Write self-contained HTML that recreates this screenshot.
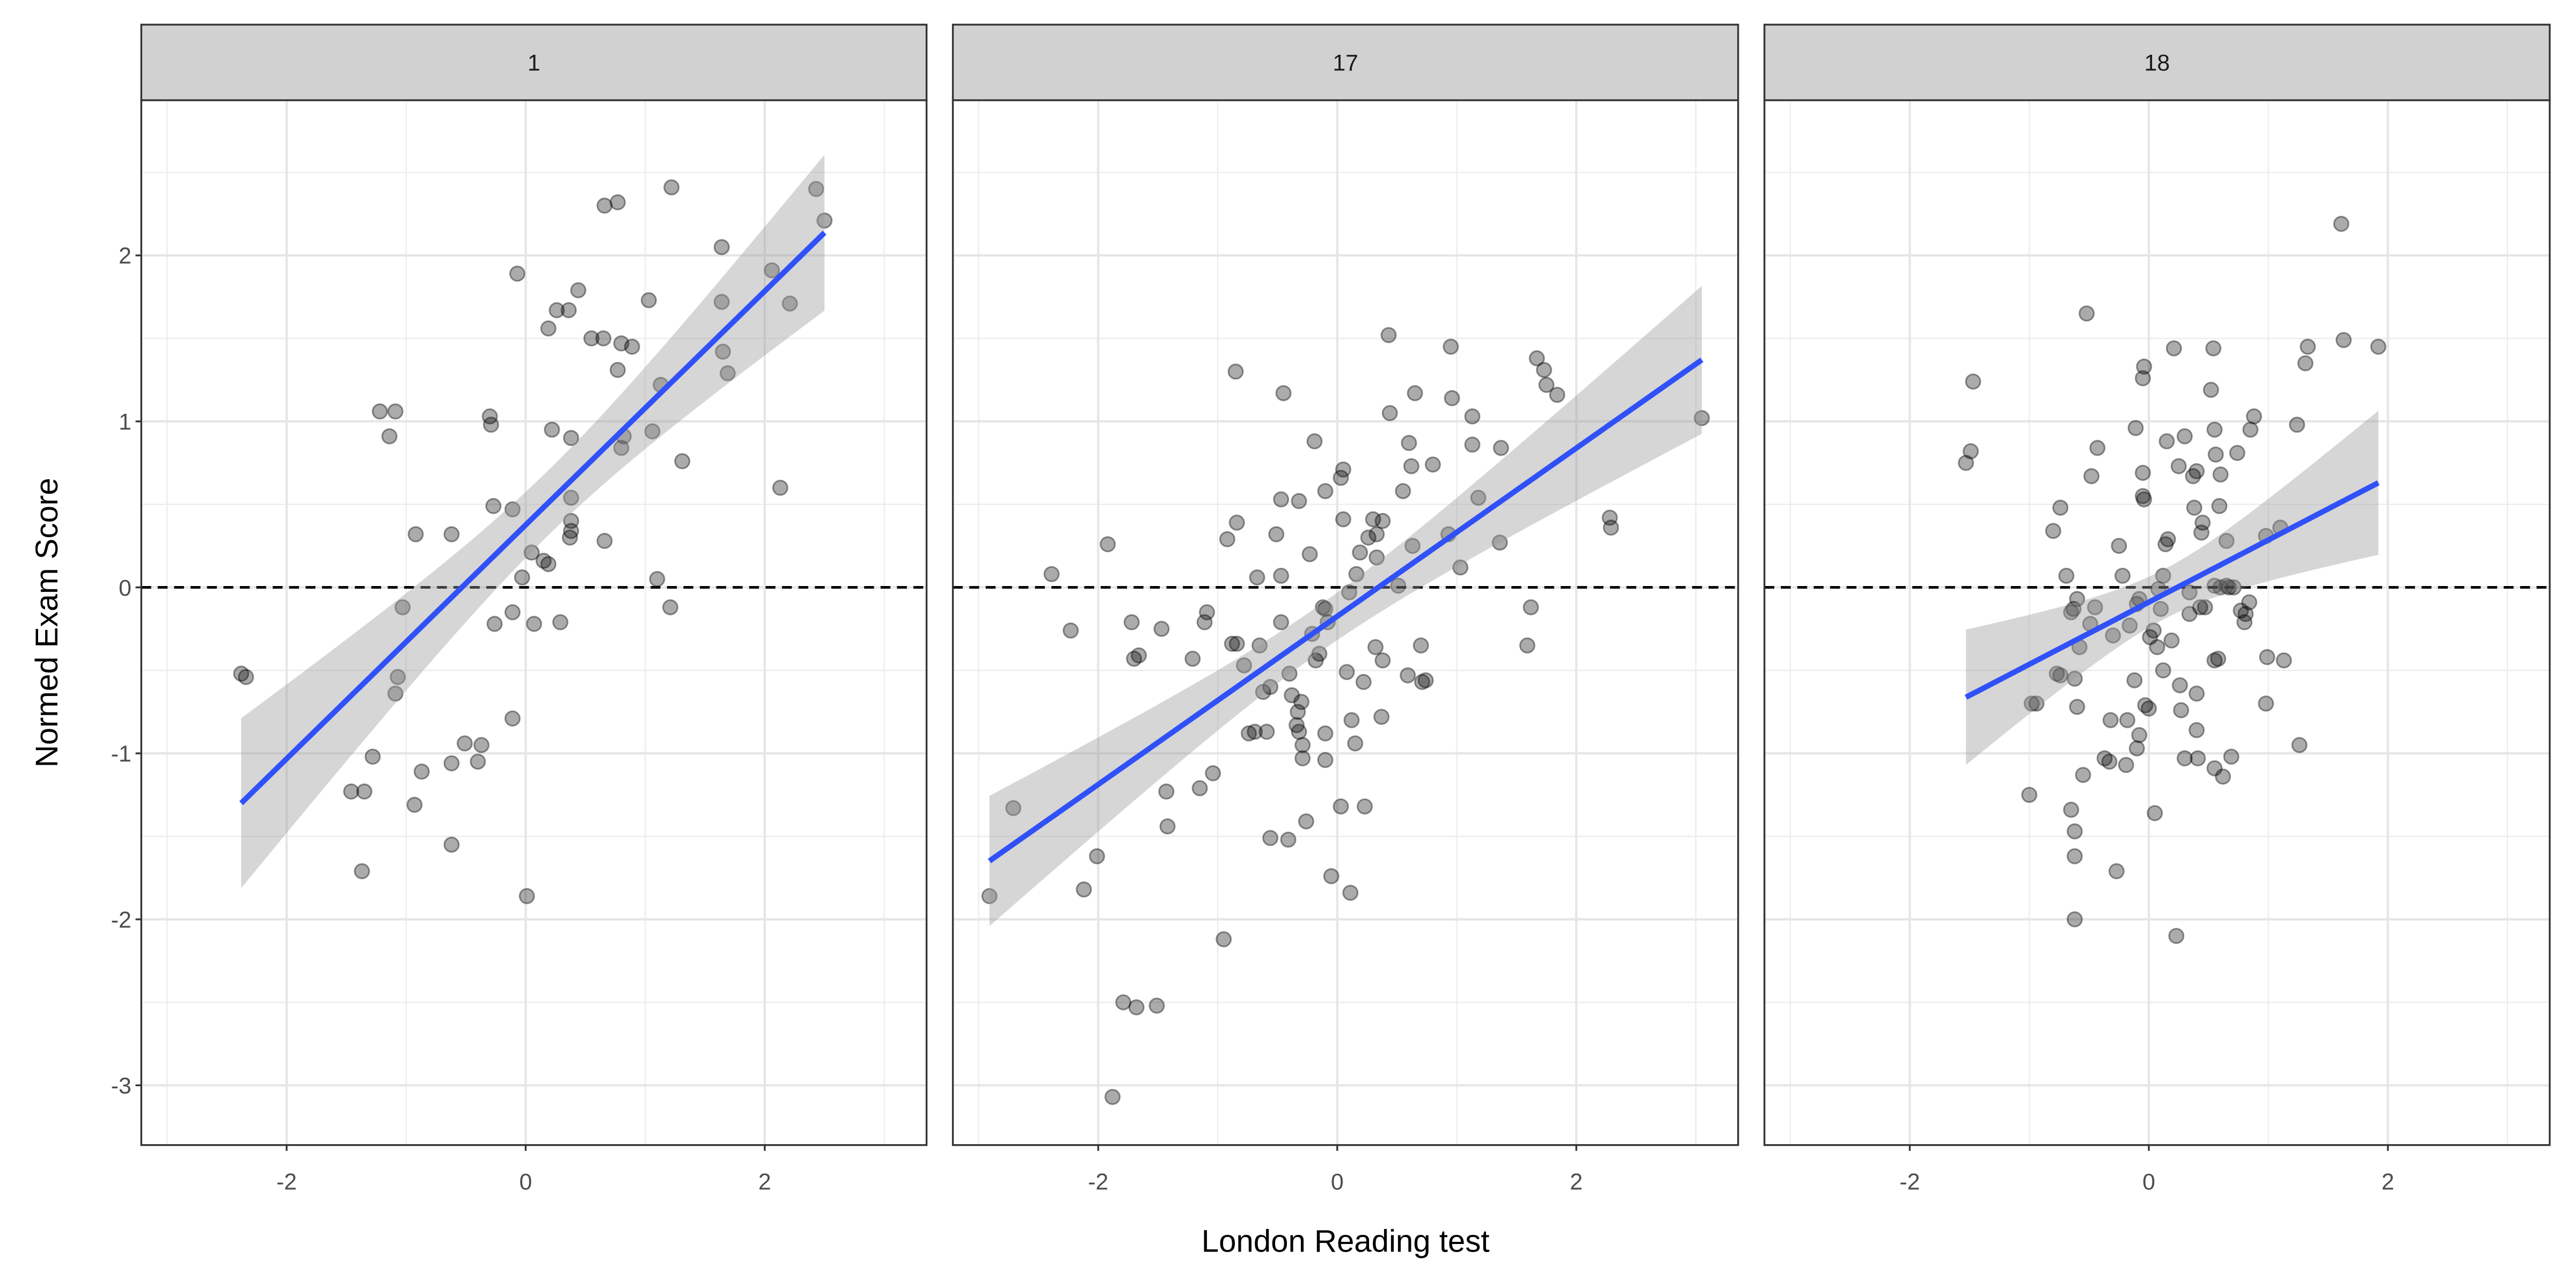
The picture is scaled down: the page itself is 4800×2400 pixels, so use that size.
<!DOCTYPE html>
<html><head><meta charset="utf-8"><style>
html,body{margin:0;padding:0;background:#fff;}
svg{display:block;}
text{font-family:"Liberation Sans",Arial,sans-serif;}
</style></head><body>
<svg id="chart" width="4800" height="2400" viewBox="0 0 1568 784" xmlns="http://www.w3.org/2000/svg"></svg>
<script>
const panelLabels = ["1", "17", "18"];
const xTicks = [-2, 0, 2];
const yTicks = [-3, -2, -1, 0, 1, 2];
const xTickLabels = ["-2", "0", "2"];
const yTickLabels = ["-3", "-2", "-1", "0", "1", "2"];
const p1x = [-2.38,-2.34,-1.46,-1.35,-1.37,-1.28,-1.22,-1.09,-1.14,-1.07,-1.09,-1.03,-0.92,-0.93,-0.87,-0.62,-0.62,-0.62,-0.51,-0.40,-0.37,-0.30,-0.29,-0.27,-0.26,-0.11,-0.11,-0.11,-0.07,-0.03,0.01,0.05,0.07,0.15,0.19,0.19,0.22,0.26,0.29,0.36,0.37,0.38,0.38,0.38,0.38,0.44,0.55,0.65,0.66,0.66,0.77,0.77,0.80,0.80,0.82,0.89,1.03,1.06,1.10,1.13,1.21,1.22,1.31,1.64,1.64,1.65,1.69,2.06,2.13,2.21,2.43,2.50];
const p1y = [-0.52,-0.54,-1.23,-1.23,-1.71,-1.02,1.06,1.06,0.91,-0.54,-0.64,-0.12,0.32,-1.31,-1.11,0.32,-1.06,-1.55,-0.94,-1.05,-0.95,1.03,0.98,0.49,-0.22,0.47,-0.15,-0.79,1.89,0.06,-1.86,0.21,-0.22,0.16,0.14,1.56,0.95,1.67,-0.21,1.67,0.30,0.34,0.40,0.54,0.90,1.79,1.50,1.50,0.28,2.30,2.32,1.31,1.47,0.84,0.91,1.45,1.73,0.94,0.05,1.22,-0.12,2.41,0.76,2.05,1.72,1.42,1.29,1.91,0.60,1.71,2.40,2.21];
const p2x = [-2.91,-2.71,-2.39,-2.23,-2.12,-2.01,-1.92,-1.88,-1.79,-1.70,-1.66,-1.72,-1.68,-1.51,-1.47,-1.43,-1.42,-1.21,-1.15,-1.11,-1.09,-1.04,-0.95,-0.92,-0.88,-0.84,-0.85,-0.84,-0.78,-0.74,-0.69,-0.67,-0.65,-0.62,-0.56,-0.59,-0.56,-0.41,-0.51,-0.47,-0.47,-0.47,-0.45,-0.40,-0.38,-0.34,-0.32,-0.32,-0.33,-0.30,-0.29,-0.29,-0.26,-0.23,-0.21,-0.19,-0.18,-0.15,-0.12,-0.10,-0.10,-0.08,-0.10,-0.10,-0.05,0.03,0.03,0.05,0.05,0.08,0.11,0.10,0.12,0.15,0.16,0.19,0.22,0.23,0.26,0.30,0.33,0.33,0.32,0.37,0.38,0.38,0.43,0.44,0.51,0.55,0.59,0.60,0.62,0.63,0.65,0.70,0.71,0.74,0.80,0.93,0.95,0.96,1.03,1.13,1.13,1.18,1.36,1.37,1.59,1.62,1.67,1.73,1.75,1.84,2.28,2.29,3.05];
const p2y = [-1.86,-1.33,0.08,-0.26,-1.82,-1.62,0.26,-3.07,-2.50,-0.43,-0.41,-0.21,-2.53,-2.52,-0.25,-1.23,-1.44,-0.43,-1.21,-0.21,-0.15,-1.12,-2.12,0.29,-0.34,-0.34,1.30,0.39,-0.47,-0.88,-0.87,0.06,-0.35,-0.63,-0.60,-0.87,-1.51,-1.52,0.32,0.53,0.07,-0.21,1.17,-0.52,-0.65,-0.83,-0.87,0.52,-0.75,-0.69,-0.95,-1.03,-1.41,0.20,-0.28,0.88,-0.44,-0.40,-0.12,0.58,-0.13,-0.21,-0.88,-1.04,-1.74,-1.32,0.66,0.71,0.41,-0.51,-1.84,-0.03,-0.80,-0.94,0.08,0.21,-0.57,-1.32,0.30,0.41,0.32,0.18,-0.36,-0.78,-0.44,0.40,1.52,1.05,0.01,0.58,-0.53,0.87,0.73,0.25,1.17,-0.35,-0.57,-0.56,0.74,0.32,1.45,1.14,0.12,0.86,1.03,0.54,0.27,0.84,-0.35,-0.12,1.38,1.31,1.22,1.16,0.42,0.36,1.02];
const p3x = [-1.53,-1.49,-1.47,-1.00,-0.98,-0.94,-0.80,-0.74,-0.77,-0.74,-0.69,-0.65,-0.63,-0.60,-0.65,-0.62,-0.62,-0.62,-0.62,-0.60,-0.58,-0.55,-0.52,-0.49,-0.45,-0.48,-0.43,-0.37,-0.33,-0.32,-0.30,-0.27,-0.25,-0.22,-0.19,-0.18,-0.16,-0.12,-0.10,-0.08,-0.10,-0.08,-0.11,-0.05,-0.04,-0.05,-0.05,-0.04,-0.03,0.00,0.01,0.04,0.07,0.05,0.08,0.10,0.12,0.12,0.14,0.16,0.15,0.19,0.21,0.23,0.25,0.26,0.27,0.30,0.30,0.34,0.34,0.37,0.40,0.38,0.40,0.41,0.40,0.44,0.45,0.43,0.47,0.52,0.55,0.54,0.55,0.58,0.55,0.60,0.56,0.60,0.59,0.55,0.62,0.65,0.65,0.67,0.71,0.69,0.74,0.77,0.80,0.81,0.84,0.85,0.88,0.98,0.99,0.98,1.10,1.13,1.24,1.26,1.31,1.33,1.61,1.63,1.92];
const p3y = [0.75,0.82,1.24,-1.25,-0.70,-0.70,0.34,0.48,-0.52,-0.53,0.07,-0.15,-0.13,-0.07,-1.34,-1.47,-1.62,-2.00,-0.55,-0.72,-0.36,-1.13,1.65,-0.22,-0.12,0.67,0.84,-1.03,-1.05,-0.80,-0.29,-1.71,0.25,0.07,-1.07,-0.80,-0.23,-0.56,-0.97,-0.89,-0.10,-0.07,0.96,1.26,1.33,0.69,0.55,0.53,-0.71,-0.73,-0.30,-0.26,-0.36,-1.36,-0.01,-0.13,0.07,-0.50,0.26,0.29,0.88,-0.32,1.44,-2.10,0.73,-0.59,-0.74,0.91,-1.03,-0.03,-0.16,0.67,0.70,0.48,-0.86,-1.03,-0.64,0.33,0.39,-0.12,-0.12,1.19,0.95,1.44,-0.44,-0.43,0.01,0.00,0.80,0.68,0.49,-1.09,-1.14,0.28,0.01,0.00,0.00,-1.02,0.81,-0.14,-0.21,-0.16,-0.09,0.95,1.03,0.31,-0.42,-0.70,0.36,-0.44,0.98,-0.95,1.35,1.45,2.19,1.49,1.45];

const NS = "http://www.w3.org/2000/svg";
const svg = document.getElementById("chart");
function mk(tag, attrs, parent) {
  const e = document.createElementNS(NS, tag);
  for (const k in attrs) e.setAttribute(k, attrs[k]);
  (parent || svg).appendChild(e);
  return e;
}
const panelLefts = [86, 580, 1074];
const panelW = 478, stripTop = 15, plotTop = 61, plotBottom = 697;
const xMin = -3.216, xMax = 3.354, yMin = -3.36, yMax = 2.935;
const yScale = v => plotBottom - (v - yMin) / (yMax - yMin) * (plotBottom - plotTop);
const xsData = [p1x, p2x, p3x], ysData = [p1y, p2y, p3y];

function fit(xs, ys) {
  const n = xs.length;
  const mx = xs.reduce((a, b) => a + b, 0) / n, my = ys.reduce((a, b) => a + b, 0) / n;
  let sxx = 0, sxy = 0;
  for (let i = 0; i < n; i++) { sxx += (xs[i] - mx) ** 2; sxy += (xs[i] - mx) * (ys[i] - my); }
  const b = sxy / sxx, a = my - b * mx;
  let sse = 0;
  for (let i = 0; i < n; i++) sse += (ys[i] - a - b * xs[i]) ** 2;
  const s = Math.sqrt(sse / (n - 2));
  return { a, b, s, n, mx, sxx };
}

panelLabels.forEach((lab, p) => {
  const L = panelLefts[p];
  const xScale = v => L + (v - xMin) / (xMax - xMin) * panelW;
  const g = mk("g", {});
  
  
  mk("rect", { x: L, y: plotTop, width: panelW, height: plotBottom - plotTop, fill: "#fff" }, g);
  // minor grid
  [-3, -1, 1, 3].forEach(v => {
    const gl = mk("line", { x1: xScale(v), x2: xScale(v), y1: plotTop, y2: plotBottom, stroke: "#ebebeb", "stroke-width": 0.7 }, g);
    
    
  });
  [-2.5, -1.5, -0.5, 0.5, 1.5, 2.5].forEach(v => {
    const gl = mk("line", { x1: L, x2: L + panelW, y1: yScale(v), y2: yScale(v), stroke: "#ebebeb", "stroke-width": 0.7 }, g);
    
    
  });
  xTicks.forEach(v => {
    const gl = mk("line", { x1: xScale(v), x2: xScale(v), y1: plotTop, y2: plotBottom, stroke: "#e6e6e6", "stroke-width": 1.4 }, g);
    
    
  });
  yTicks.forEach(v => {
    const gl = mk("line", { x1: L, x2: L + panelW, y1: yScale(v), y2: yScale(v), stroke: "#e6e6e6", "stroke-width": 1.4 }, g);
    
    
  });
  // zero reference line
  const zl = mk("line", { x1: L, x2: L + panelW, y1: yScale(0), y2: yScale(0), stroke: "#000", "stroke-width": 1.6, "stroke-dasharray": "6,4" }, g);
  
  
  // points
  const xs = xsData[p], ys = ysData[p];
  xs.forEach((xv, i) => {
    const c = mk("circle", { cx: xScale(xv), cy: yScale(ys[i]), r: 4.4, fill: "rgba(0,0,0,0.33)", stroke: "rgba(0,0,0,0.4)", "stroke-width": 1 }, g);
    
    
  });
  // regression + CI
  const f = fit(xs, ys);
  const x0 = Math.min(...xs), x1 = Math.max(...xs);
  const t = 1.98, N = 60;
  const up = [], lo = [];
  for (let k = 0; k <= N; k++) {
    const xv = x0 + (x1 - x0) * k / N;
    const yh = f.a + f.b * xv;
    const se = f.s * Math.sqrt(1 / f.n + (xv - f.mx) ** 2 / f.sxx);
    up.push(xScale(xv) + "," + yScale(yh + t * se));
    lo.unshift(xScale(xv) + "," + yScale(yh - t * se));
  }
  const band = mk("polygon", { points: up.concat(lo).join(" "), fill: "rgba(153,153,153,0.4)" }, g);
  
  
  const rl = mk("line", { x1: xScale(x0), y1: yScale(f.a + f.b * x0), x2: xScale(x1), y2: yScale(f.a + f.b * x1), stroke: "#3050f8", "stroke-width": 3.3 }, g);
  
  
  // border
  mk("rect", { x: L, y: plotTop, width: panelW, height: plotBottom - plotTop, fill: "none", stroke: "#333", "stroke-width": 1.1 }, g);
  // strip
  const st = mk("rect", { x: L, y: stripTop, width: panelW, height: plotTop - stripTop, fill: "#d1d1d1", stroke: "#333", "stroke-width": 1.1 }, g);
  
  
  const stt = mk("text", { x: L + panelW / 2, y: 43, "text-anchor": "middle", "font-size": 14, fill: "#1a1a1a" }, g);
  stt.textContent = lab;
  
  
  // x ticks
  xTicks.forEach((v, i) => {
    mk("line", { x1: xScale(v), x2: xScale(v), y1: plotBottom, y2: plotBottom + 3.5, stroke: "#333", "stroke-width": 1.1 }, g);
    const tl = mk("text", { x: xScale(v), y: 724, "text-anchor": "middle", "font-size": 14, fill: "#4d4d4d" }, g);
    tl.textContent = xTickLabels[i];
    
    
  });
  if (p === 0) {
    yTicks.forEach((v, i) => {
      mk("line", { x1: L - 3.5, x2: L, y1: yScale(v), y2: yScale(v), stroke: "#333", "stroke-width": 1.1 }, g);
      const tl = mk("text", { x: L - 6, y: yScale(v) + 5, "text-anchor": "end", "font-size": 14, fill: "#4d4d4d" }, g);
      tl.textContent = yTickLabels[i];
      
      
    });
  }
});
const xt = mk("text", { x: 819, y: 762, "text-anchor": "middle", "font-size": 19, fill: "#000" });
xt.textContent = "London Reading test";


const yt = mk("text", { x: 0, y: 0, "text-anchor": "middle", "font-size": 19, fill: "#000", transform: "translate(35,379) rotate(-90)" });
yt.textContent = "Normed Exam Score";


</script>
</body></html>
